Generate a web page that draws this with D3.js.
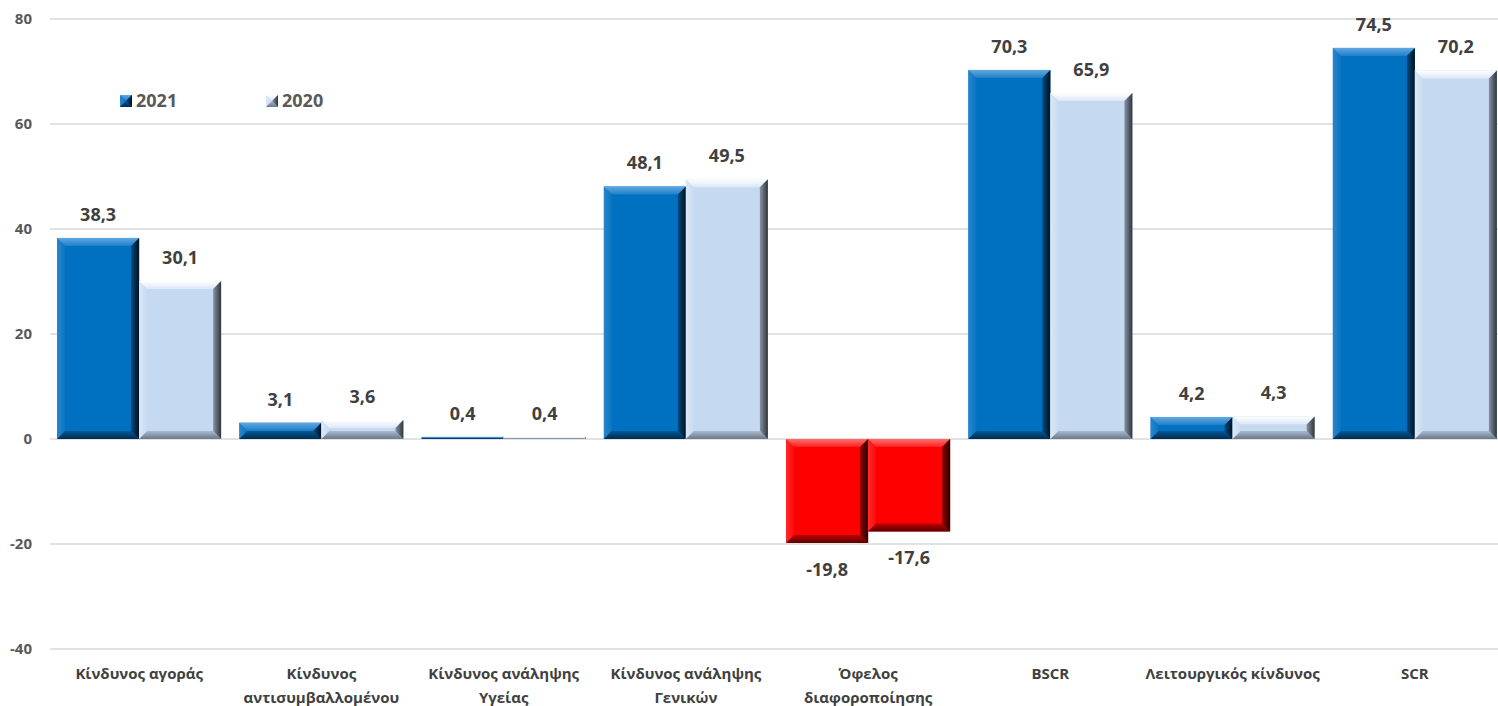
<!DOCTYPE html>
<html><head><meta charset="utf-8">
<script src="https://cdn.jsdelivr.net/npm/d3@7/dist/d3.min.js"></script>
<style>
html,body{margin:0;padding:0;background:#fff;}
svg{display:block;font-family:"Open Sans","Noto Sans",sans-serif;}
</style></head>
<body>
<svg id="chart" width="1498" height="706"></svg>
<script>
const categories = [
  ["Κίνδυνος αγοράς"],
  ["Κίνδυνος", "αντισυμβαλλομένου"],
  ["Κίνδυνος ανάληψης", "Υγείας"],
  ["Κίνδυνος ανάληψης", "Γενικών"],
  ["Όφελος", "διαφοροποίησης"],
  ["BSCR"],
  ["Λειτουργικός κίνδυνος"],
  ["SCR"]
];
const values2021 = [38.3, 3.1, 0.4, 48.1, -19.8, 70.3, 4.2, 74.5];
const values2020 = [30.1, 3.6, 0.4, 49.5, -17.6, 65.9, 4.3, 70.2];
const seriesNames = ["2021", "2020"];
const yTicks = [-40, -20, 0, 20, 40, 60, 80];

const svg = d3.select("#chart");
const W = 1498, H = 706;

const x = d3.scaleBand().domain(d3.range(categories.length)).range([48, 1506]).padding(0);
const groupW = x.bandwidth() * 0.9;
const xs = d3.scaleBand().domain([0, 1]).range([0, groupW]).padding(0);
const y = d3.scaleLinear().domain([-40, 80]).range([649, 19]);

const pal = {
  s0: {base:"#0070C0", top:["#62a8e0","#1f80ca"], left:["#2a86cc","#0a74c2"], right:["#00111f","#004a80"], bottom:["#002b4e","#00599a"]},
  s1: {base:"#C5D9F1", top:["#ffffff","#dbe8f7"], left:["#dbe7f6","#c8dbf2"], right:["#2e343b","#8794a3"], bottom:["#6c7786","#a9bad0"]},
  neg:{base:"#FF0000", top:["#ff7070","#ff2020"], left:["#ff2a2a","#ff0808"], right:["#250000","#950000"], bottom:["#5a0000","#c00000"]}
};

const defs = svg.append("defs");
function grad(id, c, dir){
  const g = defs.append("linearGradient").attr("id", id);
  const map = {top:[0,0,0,1], bottom:[0,1,0,0], left:[0,0,1,0], right:[1,0,0,0]};
  const m = map[dir];
  g.attr("x1",m[0]).attr("y1",m[1]).attr("x2",m[2]).attr("y2",m[3]);
  g.append("stop").attr("offset","0").attr("stop-color",c[0]);
  g.append("stop").attr("offset","1").attr("stop-color",c[1]);
}
Object.entries(pal).forEach(([k,p])=>{
  ["top","left","right","bottom"].forEach(s=>grad(k+"-"+s, p[s], s));
});

// gridlines
svg.append("g").selectAll("line").data(yTicks).join("line")
  .attr("x1", 50).attr("x2", W)
  .attr("y1", d=>y(d)).attr("y2", d=>y(d))
  .attr("stroke", "#d9d9d9").attr("stroke-width", 1.5);

// y tick labels
svg.append("g").selectAll("text").data(yTicks).join("text")
  .attr("x", 32).attr("y", d=>y(d)).attr("dy","0.36em")
  .attr("text-anchor","end")
  .attr("font-size", 15).attr("font-weight", 700).attr("fill", "#595959")
  .text(d=>String(d));

function bevelBar(g, x0, y0, w, h, key){
  const b = Math.max(0.5, Math.min(8, h/2, w/2));
  const x1 = x0 + w, y1 = y0 + h;
  g.append("rect").attr("x",x0).attr("y",y0).attr("width",w).attr("height",h).attr("fill",pal[key].base);
  const polys = {
    top:[[x0,y0],[x1,y0],[x1-b,y0+b],[x0+b,y0+b]],
    bottom:[[x0,y1],[x1,y1],[x1-b,y1-b],[x0+b,y1-b]],
    left:[[x0,y0],[x0+b,y0+b],[x0+b,y1-b],[x0,y1]],
    right:[[x1,y0],[x1-b,y0+b],[x1-b,y1-b],[x1,y1]]
  };
  ["left","bottom","top","right"].forEach(s=>{
    g.append("polygon").attr("points", polys[s].map(p=>p.join(",")).join(" "))
      .attr("fill", `url(#${key}-${s})`);
  });
}

const fmt = v => v.toFixed(1).replace(".", ",");
const barsG = svg.append("g");
const labG = svg.append("g");
const series = [values2021, values2020];
categories.forEach((c, i)=>{
  series.forEach((vals, s)=>{
    const v = vals[i];
    const bx = x(i) + (x.bandwidth()-groupW)/2 + xs(s);
    const bw = xs.bandwidth();
    const top = y(Math.max(0, v)), bot = y(Math.min(0, v));
    const key = v < 0 ? "neg" : (s===0 ? "s0" : "s1");
    bevelBar(barsG, bx, top, bw, Math.max(1.5, bot-top), key);
    labG.append("text")
      .attr("x", bx + bw/2)
      .attr("y", v >= 0 ? top - 17 : bot + 33)
      .attr("text-anchor","middle")
      .attr("font-size", 18).attr("font-weight", 700).attr("fill", "#404040")
      .text(fmt(v));
  });
});

// category labels
const catG = svg.append("g");
categories.forEach((lines, i)=>{
  const cx = x(i) + x.bandwidth()/2;
  const t = catG.append("text")
    .attr("x", cx)
    .attr("y", 679)
    .attr("text-anchor","middle")
    .attr("font-size", 15).attr("font-weight", 700).attr("fill", "#404040");
  lines.forEach((ln, k)=>{
    t.append("tspan").attr("x", cx).attr("dy", k===0 ? 0 : 24).text(ln);
  });
});

// legend
const legend = svg.append("g");
const legX = [120, 266];
seriesNames.forEach((n, s)=>{
  const g = legend.append("g");
  bevelBar(g, legX[s], 95, 12, 12, s===0 ? "s0" : "s1");
  g.append("text").attr("x", legX[s]+16).attr("y", 107)
    .attr("font-size", 18).attr("font-weight", 700).attr("fill", "#595959").text(n);
});
</script>
</body></html>
